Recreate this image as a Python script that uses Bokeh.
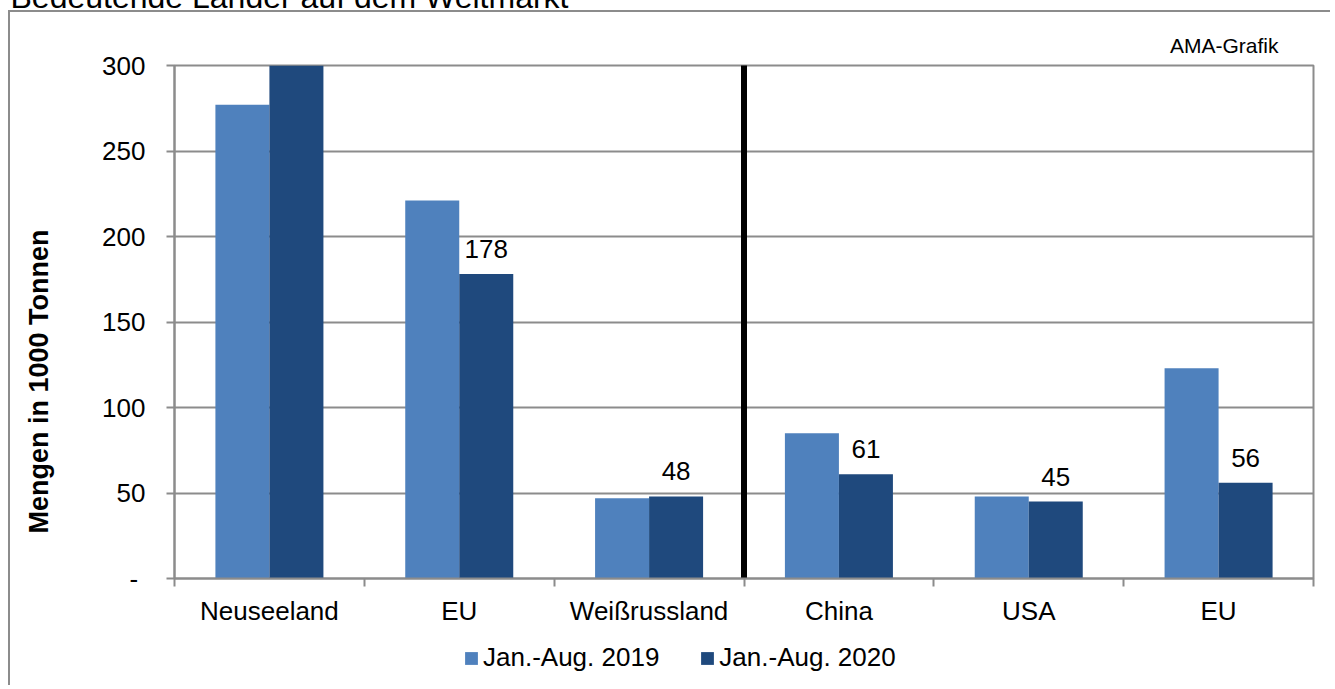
from bokeh.plotting import figure
from bokeh.layouts import column
from bokeh.models import (Range1d, FixedTicker, Legend, LegendItem, ColumnDataSource, Title,
                          InlineStyleSheet)
from bokeh.core.properties import value
from bokeh.embed import file_html
from bokeh.resources import INLINE

# ---- data ----
categories = ["Neuseeland", "EU", "Weißrussland", "China", "USA", "EU"]
series_2019 = [277, 221, 47, 85, 48, 123]
series_2020 = [318, 178, 48, 61, 45, 56]
series_names = ["Jan.-Aug. 2019", "Jan.-Aug. 2020"]
y_ticks = [0, 50, 100, 150, 200, 250, 300]
y_tick_labels = ["-\u00a0", "50", "100", "150", "200", "250", "300"]
title_text = "Bedeutende Länder auf dem Weltmarkt"
y_title = "Mengen in 1000 Tonnen"
source_note = "AMA-Grafik"
separator_after = 3

LIGHT = "#4F81BD"
DARK = "#1F497D"
GRID = "#8c8c8c"
FONT = "Liberation Sans"

n = len(categories)
y_max = 300
bw = 0.2845
centers = [i + 0.5 for i in range(n)]

W = 1356
p1 = figure(width=W, height=680, x_range=Range1d(0, n), y_range=Range1d(0, y_max),
            output_backend="svg", toolbar_location=None,
            min_border_left=200, min_border_right=17, min_border_top=110, min_border_bottom=57)
p1.background_fill_color = "white"
p1.border_fill_color = "white"
p1.outline_line_color = GRID
p1.outline_line_width = 2

src1 = ColumnDataSource(dict(x=[c - bw / 2 for c in centers], top=series_2019))
src2 = ColumnDataSource(dict(x=[c + bw / 2 for c in centers], top=series_2020))
p1.vbar(x="x", top="top", width=bw, source=src1, fill_color=LIGHT, line_color=None)
p1.vbar(x="x", top="top", width=bw, source=src2, fill_color=DARK, line_color=None)

# data labels for 2020 series
lab_x = [c + bw / 2 for c, v in zip(centers, series_2020) if v <= y_max]
lab_y = [v for v in series_2020 if v <= y_max]
lab_t = [str(v) for v in series_2020 if v <= y_max]
p1.text(x=lab_x, y=lab_y, text=lab_t, text_align="center", text_baseline="alphabetic",
        y_offset=-25, text_font=value(FONT), text_font_size="26px", text_color="black")

# separator line
p1.segment(x0=[separator_after], y0=[0], x1=[separator_after], y1=[y_max + 3],
           line_color="black", line_width=6)

# axes
p1.yaxis.ticker = FixedTicker(ticks=y_ticks)
p1.yaxis.major_label_overrides = dict(zip(y_ticks, y_tick_labels))
p1.yaxis.minor_tick_line_color = None
p1.yaxis.major_tick_in = 0
p1.yaxis.major_tick_out = 8
p1.yaxis.major_label_standoff = 21

p1.xaxis.ticker = FixedTicker(ticks=centers, minor_ticks=list(range(n + 1)))
p1.xaxis.major_label_overrides = {c: cat for c, cat in zip(centers, categories)}
p1.xaxis.major_tick_line_color = None
p1.xaxis.major_tick_out = 0
p1.xaxis.major_tick_in = 0
p1.xaxis.minor_tick_in = 0
p1.xaxis.minor_tick_out = 8
p1.xaxis.minor_tick_line_color = GRID
p1.xaxis.minor_tick_line_width = 2
p1.xaxis.major_label_standoff = 9

for ax in (p1.xaxis, p1.yaxis):
    ax.axis_line_color = GRID
    ax.axis_line_width = 2
    ax.major_tick_line_width = 2
    ax.major_label_text_font = FONT
    ax.major_label_text_font_size = "26px"
    ax.major_label_text_color = "black"
p1.yaxis.major_tick_line_color = GRID

p1.xgrid.visible = False
p1.ygrid.grid_line_color = GRID
p1.ygrid.grid_line_width = 2

# main (cut-off) title
p1.title = Title(text=title_text, align="left", offset=-164, text_font=FONT,
                 text_font_size="32px", text_font_style="normal", text_color="black",
                 standoff=16)
# source note
p1.add_layout(Title(text=source_note, align="right", offset=35, text_font=FONT,
                    text_font_size="21px", text_font_style="normal", text_color="black",
                    standoff=18), "above")
# y title
p1.add_layout(Title(text=y_title, align="left", offset=45, vertical_align="bottom",
                    text_font=FONT, text_font_size="27px", text_font_style="bold",
                    text_color="black", standoff=92), "left")

# ---- legend strip ----
p2 = figure(width=W, height=50, x_range=Range1d(7, 8), y_range=Range1d(0, 1),
            output_backend="svg", toolbar_location=None, min_border=0,
            x_axis_location=None, y_axis_location=None)
p2.title.visible = False
p2.outline_line_color = None
p2.grid.visible = False
p2.background_fill_color = "white"
p2.border_fill_color = "white"
l1 = p2.vbar(x="x", top="top", width=bw, source=src1, fill_color=LIGHT, line_color=None)
l2 = p2.vbar(x="x", top="top", width=bw, source=src2, fill_color=DARK, line_color=None)
l1.visible = False
l2.visible = False
legend = Legend(items=[LegendItem(label=series_names[0], renderers=[l1]),
                       LegendItem(label=series_names[1], renderers=[l2])],
                orientation="horizontal", location=(289, 12), padding=0, margin=0,
                border_line_color=None, background_fill_alpha=0,
                glyph_width=16, glyph_height=16, label_standoff=4, spacing=40,
                label_text_font=FONT, label_text_font_size="26px", label_height=26,
                label_text_color="black", click_policy="none", inactive_fill_alpha=0)
p2.add_layout(legend)

p = column(p1, p2, spacing=0)
p.margin = (-45, 0, 0, -26)
# outer chart frame (left and top edges)
p.stylesheets = [InlineStyleSheet(css=(
    ":host { position: relative; }"
    ":host::after { content: ''; position: absolute; left: 34px; top: 55px; right: 0; bottom: 0;"
    " border-left: 2px solid #8c8c8c; border-top: 2px solid #8c8c8c; pointer-events: none; }"))]

open("out.html", "w").write(file_html(p, INLINE))
